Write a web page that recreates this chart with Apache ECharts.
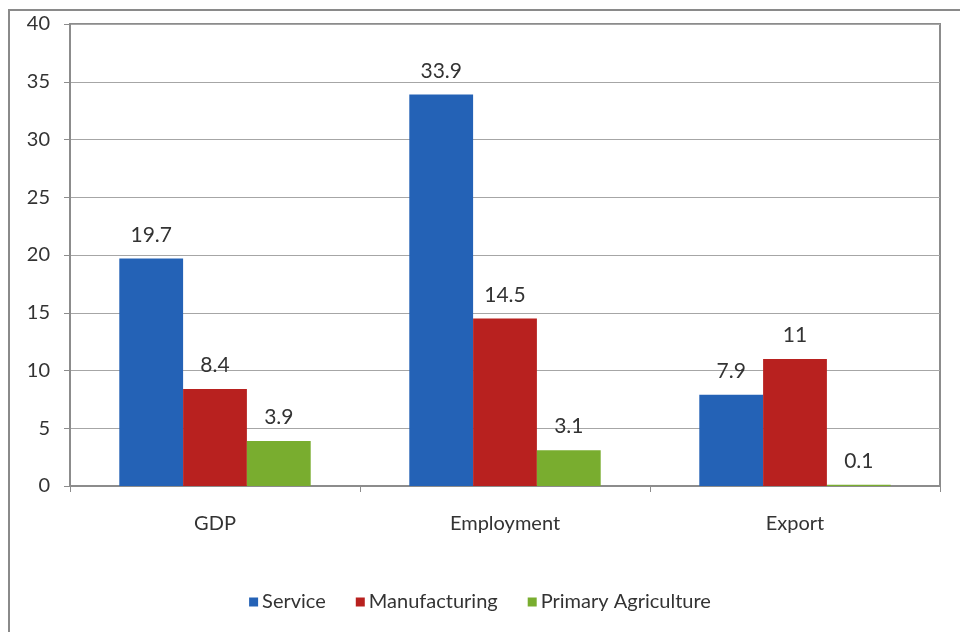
<!DOCTYPE html>
<html><head><meta charset="utf-8">
<script src="https://cdn.jsdelivr.net/npm/echarts@6/dist/echarts.min.js"></script>
<style>html,body{margin:0;padding:0;background:#fff}#c{width:960px;height:632px}</style>
</head><body><div id="c"></div>
<script>
const categories = ["GDP", "Employment", "Export"];
const serviceValues = [19.7, 33.9, 7.9];
const manufacturingValues = [8.4, 14.5, 11];
const agricultureValues = [3.9, 3.1, 0.1];
const seriesNames = ["Service", "Manufacturing", "Primary Agriculture"];
const yTicks = [0, 5, 10, 15, 20, 25, 30, 35, 40];

const colors = ["#2462b6", "#b8211f", "#79ad2f"];
const font = "Lato, 'Open Sans', sans-serif";
const chart = echarts.init(document.getElementById('c'), null, {renderer: 'canvas'});
const mk = (name, data, color) => ({
  name, type: 'bar', data, barGap: '0%', barCategoryGap: '34%',
  itemStyle: {color},
  label: {show: true, position: 'top', distance: 13, color: '#333', fontSize: 21, fontFamily: font}
});
chart.setOption({
  animation: false,
  color: colors,
  graphic: [{
    type: 'rect', shape: {x: 9, y: 10, width: 1000, height: 700},
    style: {fill: 'none', stroke: '#8a8a8a', lineWidth: 2}, silent: true, z: -1
  }],
  grid: {left: 70, right: 20, top: 24, bottom: 146, show: true, borderColor: '#8c8c8c', borderWidth: 2, containLabel: false},
  legend: {
    bottom: 15, left: 'center', itemWidth: 9, itemHeight: 9, itemGap: 30,
    icon: 'rect',
    textStyle: {fontSize: 20, color: '#333', fontFamily: font, padding: [0, 0, 0, -1]},
    data: seriesNames
  },
  xAxis: {
    type: 'category', data: categories,
    axisLine: {lineStyle: {color: '#8c8c8c', width: 2}},
    axisTick: {show: true, length: 6, lineStyle: {color: '#8c8c8c'}},
    axisLabel: {fontSize: 20, color: '#333', margin: 28, fontFamily: font}
  },
  yAxis: {
    type: 'value', min: yTicks[0], max: yTicks[yTicks.length - 1], interval: 5,
    axisLine: {show: true, lineStyle: {color: '#8c8c8c', width: 2}},
    axisTick: {show: true, length: 6, lineStyle: {color: '#8c8c8c'}},
    axisLabel: {fontSize: 20, color: '#333', margin: 20, fontFamily: font},
    splitLine: {lineStyle: {color: '#a6a6a6', width: 1}}
  },
  series: [
    mk(seriesNames[0], serviceValues, colors[0]),
    mk(seriesNames[1], manufacturingValues, colors[1]),
    mk(seriesNames[2], agricultureValues, colors[2])
  ]
});
</script></body></html>
